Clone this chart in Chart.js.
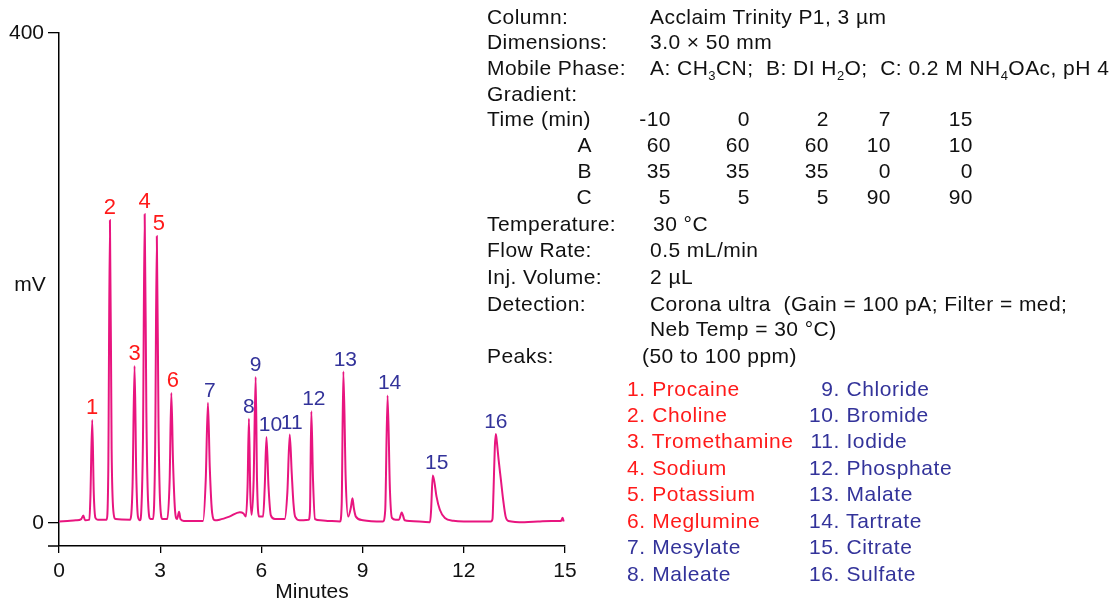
<!DOCTYPE html>
<html>
<head>
<meta charset="utf-8">
<script src="https://cdn.jsdelivr.net/npm/chart.js"></script>
<style>
  html, body { margin: 0; padding: 0; background: #fff; }
  #wrap { position: relative; width: 1117px; height: 607px; overflow: hidden; }
  #chromCanvas { position: absolute; left: 0; top: 0; }
  .t { position: absolute; font-family: "Liberation Sans", Arial, sans-serif; font-size: 21px;
       letter-spacing: 0.45px; line-height: 26px; color: #111; white-space: nowrap; }
  .r { text-align: right; }
  sub { font-size: 13px; vertical-align: -5px; line-height: 0; }
  .red { color: #ff1a1a; letter-spacing: 0.6px; }
  .blue { color: #33339a; letter-spacing: 0.6px; }
  .num { display: inline-block; width: 39px; text-align: right; }
</style>
</head>
<body>
<div id="wrap">
  <canvas id="chromCanvas" width="1117" height="607"></canvas>
  <div id="panel"></div>
</div>

<script>

// chromatogram trace (minutes, mV)
const traceTime = [
  0.00, 0.25, 0.50, 0.66, 0.72, 0.77, 0.90, 0.93, 0.985, 1.03, 1.08, 1.15,
  1.41, 1.46, 1.51, 1.56, 1.61, 1.68,
  2.11, 2.18, 2.24, 2.29, 2.34, 2.40, 2.44, 2.49, 2.54, 2.59, 2.64, 2.71,
  2.79, 2.85, 2.90, 2.95, 3.00, 3.07, 3.21, 3.28, 3.33, 3.38, 3.44, 3.50,
  3.56, 3.60, 3.70, 4.27, 4.35, 4.415, 4.47, 4.54, 4.62, 4.76, 5.05, 5.36,
  5.47, 5.54, 5.59, 5.63, 5.67, 5.71, 5.77, 5.83, 5.87, 5.93, 6.05, 6.10,
  6.15, 6.21, 6.28, 6.40, 6.69, 6.77, 6.84, 6.90, 6.95, 7.00, 7.14, 7.40,
  7.44, 7.48, 7.53, 7.59, 7.75, 8.00, 8.33, 8.38, 8.43, 8.50, 8.57, 8.65,
  8.70, 8.74, 8.80, 9.01, 9.60, 9.67, 9.74, 9.81, 9.87, 9.98, 10.08, 10.16,
  10.25, 10.40, 11.00, 11.03, 11.08, 11.13, 11.19, 11.29, 11.44, 11.69, 12.00, 12.80,
  12.85, 12.88, 12.92, 12.95, 12.98, 13.03, 13.10, 13.17, 13.24, 13.32, 13.80, 14.20,
  14.60, 14.88, 14.93, 14.96
];
const traceSignal = [
  1, 1.5, 2, 3, 6, 2, 2.5, 20, 84, 25, 4, 2.5,
  2.5, 40, 247, 60, 10, 3,
  2.5, 30, 128, 40, 5, 2, 10, 70, 252, 90, 18, 3,
  3, 60, 234, 80, 15, 3, 3, 35, 106, 50, 10, 3,
  9, 3, 1.5, 1.5, 35, 98, 45, 8, 2, 2.5, 5, 8.5,
  7.5, 5, 30, 85, 25, 6.5, 35, 119, 35, 5, 5, 30,
  70, 30, 6, 3, 3, 25, 72, 40, 16, 5, 2, 2.5,
  10, 91, 35, 3, 2, 1.5, 1, 15, 123.5, 35, 5, 12,
  20, 12, 5, 2, 1, 10, 104, 27, 4, 2.5, 2.5, 8.4,
  2, 1.5, 0.5, 10, 38.6, 33, 21.5, 10.6, 3.8, 1.6, 1, 1,
  3, 25, 62, 72.4, 66, 52, 35, 18, 5, 1.5, 0.5, 1,
  1.5, 1.5, 4, 1
];

// numbered peaks
const peakNo = [1, 2, 3, 4, 5, 6, 7, 8, 9, 10, 11, 12, 13, 14, 15, 16];
const peakTime = [0.985, 1.51, 2.24, 2.54, 2.90, 3.33, 4.415, 5.63, 5.83, 6.15, 6.84, 7.48, 8.43, 9.74, 11.08, 12.95];
const peakHeight = [84, 247, 128, 252, 234, 106, 98, 85, 119, 70, 72, 91, 123.5, 104, 38.6, 72.4];
const peakNames = ['Procaine', 'Choline', 'Tromethamine', 'Sodium', 'Potassium', 'Meglumine',
  'Mesylate', 'Maleate', 'Chloride', 'Bromide', 'Iodide', 'Phosphate', 'Malate',
  'Tartrate', 'Citrate', 'Sulfate'];

const xTicks = [0, 3, 6, 9, 12, 15];
const yTicks = [0, 400];

// gradient table
const gradTime = ['-10', '0', '2', '7', '15'];
const gradA = [60, 60, 60, 10, 10];
const gradB = [35, 35, 35, 0, 0];
const gradC = [5, 5, 5, 90, 90];

const RED = '#ff1a1a';
const BLUE = '#33339a';
const TRACE = '#e8157f';
const FONT = '"Liberation Sans", Arial, sans-serif';

// little nudges for crowded labels (px)
const labelNudge = { 5: 2, 6: 1.5, 7: 2, 10: 4, 11: 2, 12: 2.5, 13: 2, 14: 2, 15: 4 };

const peakLabels = {
    id: 'peakLabels',
    afterDatasetsDraw(chart) {
        const ctx = chart.ctx;
        const xs = chart.scales.x, ys = chart.scales.y;
        ctx.save();
        ctx.textAlign = 'center';
        ctx.textBaseline = 'alphabetic';
        peakNo.forEach((n, i) => {
            const px = xs.getPixelForValue(peakTime[i]) + (labelNudge[n] || 0);
            const py = ys.getPixelForValue(peakHeight[i]) - 6;
            ctx.font = (n <= 6 ? '22px ' : '21px ') + FONT;
            ctx.fillStyle = n <= 6 ? RED : BLUE;
            ctx.fillText(String(n), px, py);
        });
        ctx.restore();
    }
};

const axisBits = {
    id: 'axisBits',
    afterDraw(chart) {
        const ctx = chart.ctx;
        const a = chart.chartArea;
        ctx.save();
        ctx.strokeStyle = '#000';
        ctx.lineWidth = 1.5;
        ctx.beginPath();
        ctx.moveTo(a.left - 11, a.bottom);
        ctx.lineTo(a.left, a.bottom);
        ctx.stroke();
        ctx.fillStyle = '#111';
        ctx.font = '21px ' + FONT;
        ctx.textAlign = 'center';
        ctx.textBaseline = 'middle';
        ctx.fillText('mV', a.left - 29, (a.top + a.bottom) / 2 - 4);
        ctx.restore();
    }
};

new Chart(document.getElementById('chromCanvas'), {
    type: 'line',
    data: {
        datasets: [{
            data: traceTime.map((t, i) => ({ x: t, y: traceSignal[i] })),
            borderColor: TRACE,
            borderWidth: 2,
            pointRadius: 0,
            cubicInterpolationMode: 'monotone',
            fill: false
        }]
    },
    options: {
        responsive: false,
        animation: false,
        devicePixelRatio: 1,
        layout: { padding: { left: 0, top: 33, right: 552, bottom: 0 } },
        plugins: { legend: { display: false }, tooltip: { enabled: false } },
        scales: {
            x: {
                type: 'linear',
                min: 0,
                max: 15,
                afterBuildTicks: (s) => { s.ticks = xTicks.map(v => ({ value: v })); },
                afterFit: (s) => { s.height = 61; },
                grid: { drawOnChartArea: false, drawTicks: true, tickLength: 7, color: '#000', lineWidth: 1.3 },
                border: { display: true, color: '#000', width: 1.5 },
                ticks: { color: '#111', font: { size: 21, family: FONT }, padding: 6, maxRotation: 0 },
                title: { display: true, text: 'Minutes', color: '#111', font: { size: 21, family: FONT }, padding: { top: 0, bottom: 2 } }
            },
            y: {
                min: -19,
                max: 400,
                afterBuildTicks: (s) => { s.ticks = yTicks.map(v => ({ value: v })); },
                afterFit: (s) => { s.width = 59; },
                grid: { drawOnChartArea: false, drawTicks: true, tickLength: 11, color: '#000', lineWidth: 1.3 },
                border: { display: true, color: '#000', width: 1.5 },
                ticks: { color: '#111', font: { size: 21, family: FONT }, padding: 4 }
            }
        }
    },
    plugins: [peakLabels, axisBits]
});

// ---- method text on the right ----
const panel = document.getElementById('panel');
function put(text, x, cy, cls, rightEdge) {
    const d = document.createElement('div');
    d.className = 't ' + (cls || '');
    d.innerHTML = text;
    d.style.top = (cy - 13) + 'px';
    if (rightEdge) { d.style.right = (1117 - x) + 'px'; d.classList.add('r'); }
    else d.style.left = x + 'px';
    panel.appendChild(d);
}

put('Column:', 487, 17); put('Acclaim Trinity P1, 3 µm', 650, 17);
put('Dimensions:', 487, 42); put('3.0 × 50 mm', 650, 42);
put('Mobile Phase:', 487, 68);
put('A: CH<sub>3</sub>CN;&nbsp; B: DI H<sub>2</sub>O;&nbsp; C: 0.2 M NH<sub>4</sub>OAc, pH 4', 650, 68);
put('Gradient:', 487, 94);
put('Time (min)', 487, 119);
put('A', 592, 145, '', true);
put('B', 592, 171, '', true);
put('C', 592, 197, '', true);
const colEdge = [671, 750, 829, 891, 973];
colEdge.forEach((e, i) => {
    put(gradTime[i], e, 119, '', true);
    put(String(gradA[i]), e, 145, '', true);
    put(String(gradB[i]), e, 171, '', true);
    put(String(gradC[i]), e, 197, '', true);
});
put('Temperature:', 487, 224); put('30 °C', 653, 224);
put('Flow Rate:', 487, 250); put('0.5 mL/min', 650, 250);
put('Inj. Volume:', 487, 277); put('2 µL', 650, 277);
put('Detection:', 487, 304); put('Corona ultra&nbsp; (Gain = 100 pA; Filter = med;', 650, 304);
put('Neb Temp = 30 °C)', 650, 329);
put('Peaks:', 487, 356); put('(50 to 100 ppm)', 642, 356);

const rowY = [389, 415, 441, 468, 494, 521, 547, 574];
peakNames.forEach((name, i) => {
    const col = n => (n <= 6 ? 'red' : 'blue');
    const n = peakNo[i];
    if (i < 8) put(n + '. ' + name, 627, rowY[i], col(n));
    else put('<span class="num">' + n + '.</span> ' + name, 801, rowY[i - 8], col(n));
});

</script>
</body>
</html>
